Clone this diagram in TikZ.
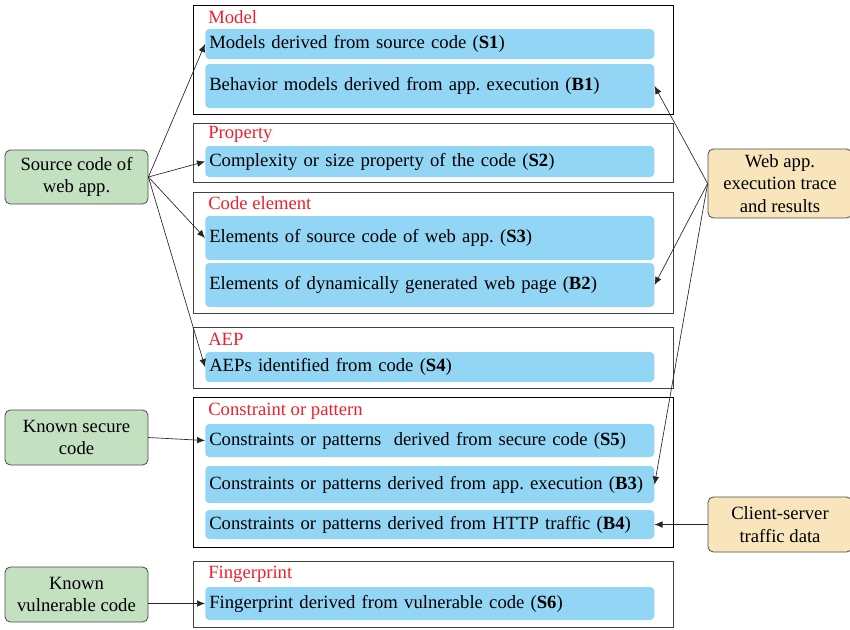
\documentclass[tikz,border=0pt]{standalone}
\usepackage{fontspec}
\setmainfont{Liberation Serif}
\usepackage{xcolor}
\usepackage{tikz}
\usetikzlibrary{arrows.meta,positioning}
\frenchspacing

\definecolor{skyfill}{HTML}{93D5F4}
\definecolor{srcfill}{HTML}{C3E0C0}
\definecolor{runfill}{HTML}{F9E5BC}
\definecolor{titlered}{HTML}{F0202A}

\tikzset{
    itembox/.style={fill=skyfill, rounded corners=3pt, anchor=west,
        minimum width=336.75pt, text width=330.75pt, inner xsep=3pt,
        align=left, font=\fontsize{14}{17}\selectfont},
    groupframe/.style={draw=black!75, line width=0.6pt},
    grouptitle/.style={anchor=west, inner sep=0pt, text=titlered,
        font=\fontsize{14}{17}\selectfont},
    srcbox/.style={draw=black!70, fill=srcfill, rounded corners=4pt,
        minimum width=107.25pt, align=center, line width=0.6pt,
        inner sep=1pt, font=\fontsize{14}{17}\selectfont},
    runbox/.style={draw=black!70, fill=runfill, rounded corners=4pt,
        minimum width=108pt, align=center, line width=0.6pt,
        inner sep=1pt, font=\fontsize{14}{17}\selectfont},
    feed/.style={-{Latex[length=6pt,width=5pt]}, black!85, line width=0.5pt}
}

\begin{document}
\begin{tikzpicture}[x=0.75pt,y=-0.75pt]
    \useasboundingbox (0,0) rectangle (850,629);

    % group frames and titles
    \draw[groupframe, draw=black] (193,5) rectangle (673,114);
    \node[grouptitle] at (208,17) {Model};
    \draw[groupframe] (193,123) rectangle (673,182);
    \node[grouptitle] at (208,134) {Property};
    \draw[groupframe] (193,192) rectangle (673,313);
    \node[grouptitle] at (208,203) {Code element};
    \draw[groupframe] (193,327) rectangle (673,388);
    \node[grouptitle] at (208,339) {AEP};
    \draw[groupframe, draw=black] (193,397) rectangle (673,547);
    \node[grouptitle] at (208,411) {Constraint or pattern};
    \draw[groupframe] (193,561) rectangle (673,627);
    \node[grouptitle] at (208,574) {Fingerprint};

    % items
    \node[itembox, minimum height=22.5pt] (s1) at (205,44)
        {Models derived from source code (\textbf{S1})};
    \node[itembox, minimum height=33pt] (b1) at (205,86)
        {Behavior models derived from app. execution (\textbf{B1})};
    \node[itembox, minimum height=23.25pt] (s2) at (205,161.5)
        {Complexity or size property of the code (\textbf{S2})};
    \node[itembox, minimum height=33pt] (s3) at (205,238)
        {Elements of source code of web app. (\textbf{S3})};
    \node[itembox, minimum height=33pt] (b2) at (205,285)
        {Elements of dynamically generated web page (\textbf{B2})};
    \node[itembox, minimum height=22.5pt] (s4) at (205,367)
        {AEPs identified from code (\textbf{S4})};
    \node[itembox, minimum height=24.75pt] (s5) at (205,440.5)
        {Constraints or patterns\ \ derived from secure code (\textbf{S5})};
    \node[itembox, minimum height=27.75pt] (b3) at (205,484.5)
        {Constraints or patterns derived from app. execution (\textbf{B3})};
    \node[itembox, minimum height=21.75pt] (b4) at (205,524.5)
        {Constraints or patterns derived from HTTP traffic (\textbf{B4})};
    \node[itembox, minimum height=24.75pt] (s6) at (205,603.5)
        {Fingerprint derived from vulnerable code (\textbf{S6})};

    % sources
    \node[srcbox, minimum height=40.5pt] (srccode) at (76.5,177)
        {Source code of\\web app.};
    \node[srcbox, minimum height=41.25pt] (securecode) at (76.5,437.5)
        {Known secure\\code};
    \node[srcbox, minimum height=41.25pt] (vulncode) at (76.5,594.5)
        {Known\\vulnerable code};
    \node[runbox, minimum height=51.75pt] (exectrace) at (780,183.5)
        {Web app.\\execution trace\\and results};
    \node[runbox, minimum height=41.25pt] (traffic) at (780,524.5)
        {Client-server\\traffic data};

    % connectors
    \foreach \dst in {s1,s2,s3,s4}
        \draw[feed] (srccode.east) -- (\dst.west);
    \foreach \dst in {b1,b2,b3}
        \draw[feed] (exectrace.west) -- (\dst.east);
    \draw[feed] (traffic.west) -- (b4.east);
    \draw[feed] (securecode.east) -- (s5.west);
    \draw[feed] (vulncode.east |- s6.west) -- (s6.west);
\end{tikzpicture}
\end{document}
